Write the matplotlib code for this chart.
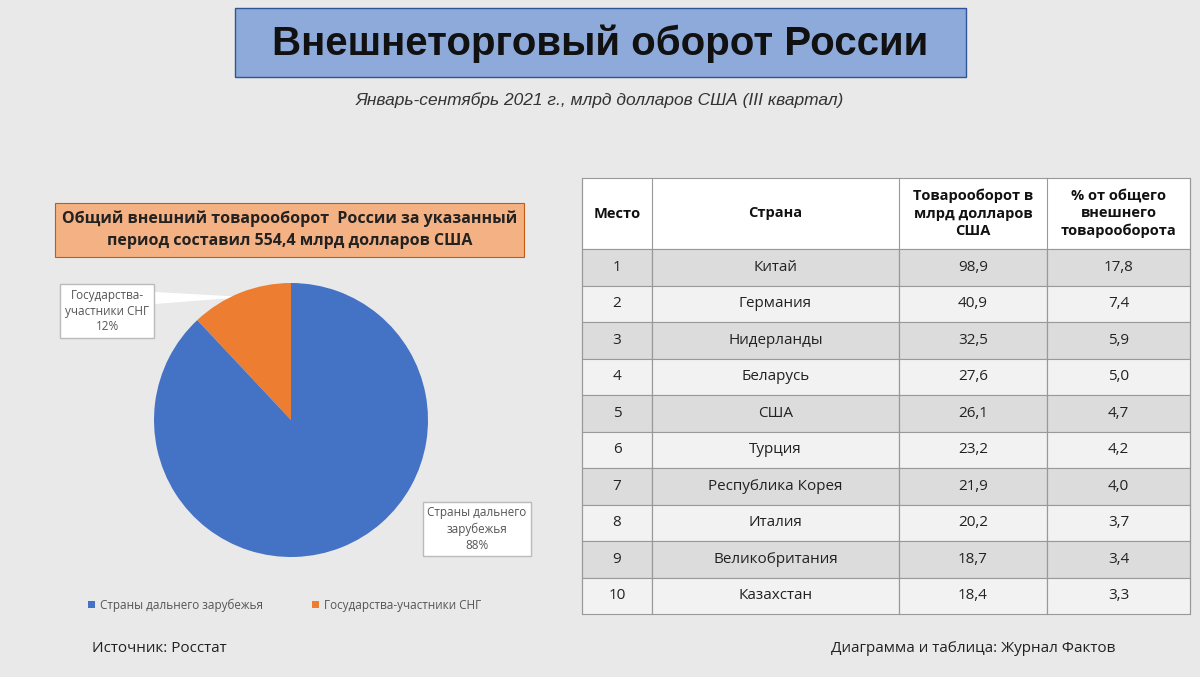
import matplotlib
matplotlib.use("Agg")
import matplotlib.pyplot as plt
from matplotlib.patches import Rectangle, Polygon

places = [1, 2, 3, 4, 5, 6, 7, 8, 9, 10]
countries = ["Китай", "Германия", "Нидерланды", "Беларусь", "США", "Турция",
             "Республика Корея", "Италия", "Великобритания", "Казахстан"]
turnover = ["98,9", "40,9", "32,5", "27,6", "26,1", "23,2", "21,9", "20,2", "18,7", "18,4"]
share = ["17,8", "7,4", "5,9", "5,0", "4,7", "4,2", "4,0", "3,7", "3,4", "3,3"]
headers = ["Место", "Страна", "Товарооборот в\nмлрд долларов\nСША", "% от общего\nвнешнего\nтоварооборота"]
pie_labels = ["Государства-участники СНГ", "Страны дальнего зарубежья"]
pie_values = [12, 88]

plt.rcParams["font.family"] = "Open Sans"
fig = plt.figure(figsize=(12, 6.77), dpi=100)
fig.patch.set_facecolor("#e9e9e9")
ax = fig.add_axes([0, 0, 1, 1])
ax.set_xlim(0, 1200); ax.set_ylim(677, 0); ax.axis("off")

ax.add_patch(Rectangle((235, 8), 731, 69, fc="#8eaadb", ec="#2f5597", lw=1))
ax.text(600, 44, "Внешнеторговый оборот России", ha="center", va="center",
        fontsize=29, fontweight="bold", color="#111111", family="Liberation Sans")
ax.text(600, 100, "Январь-сентябрь 2021 г., млрд долларов США (III квартал)",
        ha="center", va="center", fontsize=12.5, style="italic", color="#333333",
        family="Liberation Sans")

ax.add_patch(Rectangle((55, 203), 469, 54, fc="#f4b183", ec="#c55a11", lw=0.8))
ax.text(290, 230, "Общий внешний товарооборот  России за указанный\nпериод составил 554,4 млрд долларов США",
        ha="center", va="center", fontsize=11.5, fontweight="bold", color="#222222", linespacing=1.5)

# pie
R = 137
pax = fig.add_axes([(291 - R) / 1200, 1 - (420 + R) / 677, 2 * R / 1200, 2 * R / 677])
pax.pie(pie_values, colors=["#ed7d31", "#4472c4"], startangle=90, counterclock=True,
        wedgeprops=dict(edgecolor="none"))
pax.set_xlim(-1, 1); pax.set_ylim(-1, 1)
pax.axis("off")

ax.add_patch(Polygon([[155, 292], [155, 304], [245, 297]], closed=True, fc="white", ec="none", zorder=2))
ax.text(107, 311, "Государства-\nучастники СНГ\n12%", ha="center", va="center", fontsize=8.5,
        color="#555555", linespacing=1.3,
        bbox=dict(boxstyle="square,pad=0.4", fc="white", ec="#bbbbbb"), zorder=3)
ax.text(477, 529, "Страны дальнего\nзарубежья\n88%", ha="center", va="center", fontsize=8.5,
        color="#555555", linespacing=1.3,
        bbox=dict(boxstyle="square,pad=0.4", fc="white", ec="#bbbbbb"), zorder=3)

ax.add_patch(Rectangle((88, 601), 7, 7, fc="#4472c4"))
ax.text(100, 605, pie_labels[1], va="center", fontsize=8.5, color="#555555")
ax.add_patch(Rectangle((312, 601), 7, 7, fc="#ed7d31"))
ax.text(324, 605, pie_labels[0], va="center", fontsize=8.5, color="#555555")

# table
xs = [582, 652, 899, 1047, 1190]
y0, hh = 178, 71
rh = (614 - 249) / len(places)
ax.add_patch(Rectangle((xs[0], y0), xs[-1] - xs[0], hh, fc="white", ec="#999999", lw=0.8))
for j, h in enumerate(headers):
    ax.text((xs[j] + xs[j + 1]) / 2, y0 + hh / 2, h, ha="center", va="center",
            fontsize=10.5, fontweight="bold", color="#111111", linespacing=1.3)
for i in range(len(places)):
    y = y0 + hh + i * rh
    fc = "#dcdcdc" if i % 2 == 0 else "#f2f2f2"
    vals = [str(places[i]), countries[i], turnover[i], share[i]]
    for j in range(4):
        ax.add_patch(Rectangle((xs[j], y), xs[j + 1] - xs[j], rh, fc=fc, ec="#999999", lw=0.8))
        ax.text((xs[j] + xs[j + 1]) / 2, y + rh / 2, vals[j], ha="center", va="center",
                fontsize=11, color="#222222")
for j in range(5):
    ax.plot([xs[j], xs[j]], [y0, 614], color="#999999", lw=0.8)

ax.text(92, 648, "Источник: Росстат", va="center", fontsize=11, color="#222222")
ax.text(1115, 648, "Диаграмма и таблица: Журнал Фактов", ha="right", va="center",
        fontsize=11, color="#222222")

fig.savefig("out.png", dpi=100, facecolor=fig.get_facecolor())
